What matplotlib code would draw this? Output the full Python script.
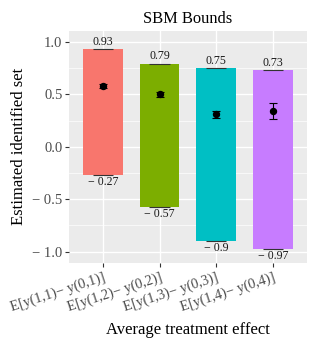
import numpy as np
import matplotlib.pyplot as plt
from matplotlib.ticker import FixedLocator

plt.rcParams['font.family'] = ['Liberation Serif', 'DejaVu Serif']

categories = ['E[y(1,1)\u2212 y(0,1)]', 'E[y(1,2)\u2212 y(0,2)]',
              'E[y(1,3)\u2212 y(0,3)]', 'E[y(1,4)\u2212 y(0,4)]']
upper = [0.93, 0.79, 0.75, 0.73]
lower = [-0.27, -0.57, -0.90, -0.97]
estimate = [0.58, 0.50, 0.31, 0.34]
est_err = [0.022, 0.022, 0.035, 0.075]
colors = ['#F8766D', '#7CAE00', '#00BFC4', '#C77CFF']


def fmt(v):
    s = ('%.2f' % abs(v)).rstrip('0')
    if s.endswith('.'):
        s += '0'
    return ('\u2212 ' + s) if v < 0 else s


fig = plt.figure(figsize=(3.16, 3.47), dpi=100)
ax = fig.add_axes([0.2184, 0.2429, 0.7522, 0.6678])
ax.set_facecolor('#EBEBEB')

x = np.arange(len(categories))
ax.bar(x, np.array(upper) - np.array(lower), bottom=lower, width=0.7,
       color=colors, zorder=2)

# bound whiskers
for xi, lo, hi in zip(x, lower, upper):
    ax.hlines([lo, hi], xi - 0.18, xi + 0.18, color='#333333', lw=0.8, zorder=3)
    ax.annotate(fmt(hi), (xi, hi), xytext=(0, 1.2), textcoords='offset points',
                ha='center', va='bottom', fontsize=8.6, color='#1a1a1a')
    ax.annotate(fmt(lo), (xi, lo), xytext=(0, -0.8), textcoords='offset points',
                ha='center', va='top', fontsize=8.6, color='#1a1a1a')

ax.errorbar(x, estimate, yerr=est_err, fmt='o', color='black', ms=4.3,
            capsize=2.9, elinewidth=0.8, capthick=0.8, zorder=4)

ax.set_xlim(-0.6, 3.6)
ax.set_ylim(-1.105, 1.105)
ax.set_xticks(x)
ax.set_xticklabels(categories, rotation=18, ha='right', rotation_mode='anchor',
                   fontsize=10.3, color='#4D4D4D')
yt = [-1.0, -0.5, 0.0, 0.5, 1.0]
ax.set_yticks(yt)
ax.set_yticklabels([fmt(v) if v < 0 else '%.1f' % v for v in yt],
                   fontsize=10.5, color='#4D4D4D')
ax.yaxis.set_minor_locator(FixedLocator([-0.75, -0.25, 0.25, 0.75]))
ax.tick_params(which='minor', length=0)
ax.tick_params(which='major', length=2.75, width=0.8, color='#333333', pad=2)
ax.tick_params(axis='x', pad=3)

ax.grid(which='major', color='white', lw=1.0, zorder=0)
ax.grid(which='minor', axis='y', color='white', lw=0.5, zorder=0)
ax.set_axisbelow(True)
for s in ax.spines.values():
    s.set_visible(False)

ax.set_title('SBM Bounds', fontsize=11.9, pad=6)
ax.set_xlabel('Average treatment effect', fontsize=12, labelpad=5.5)
ax.set_ylabel('Estimated identified set', fontsize=12, labelpad=4)

fig.savefig('out.png', dpi=100)
